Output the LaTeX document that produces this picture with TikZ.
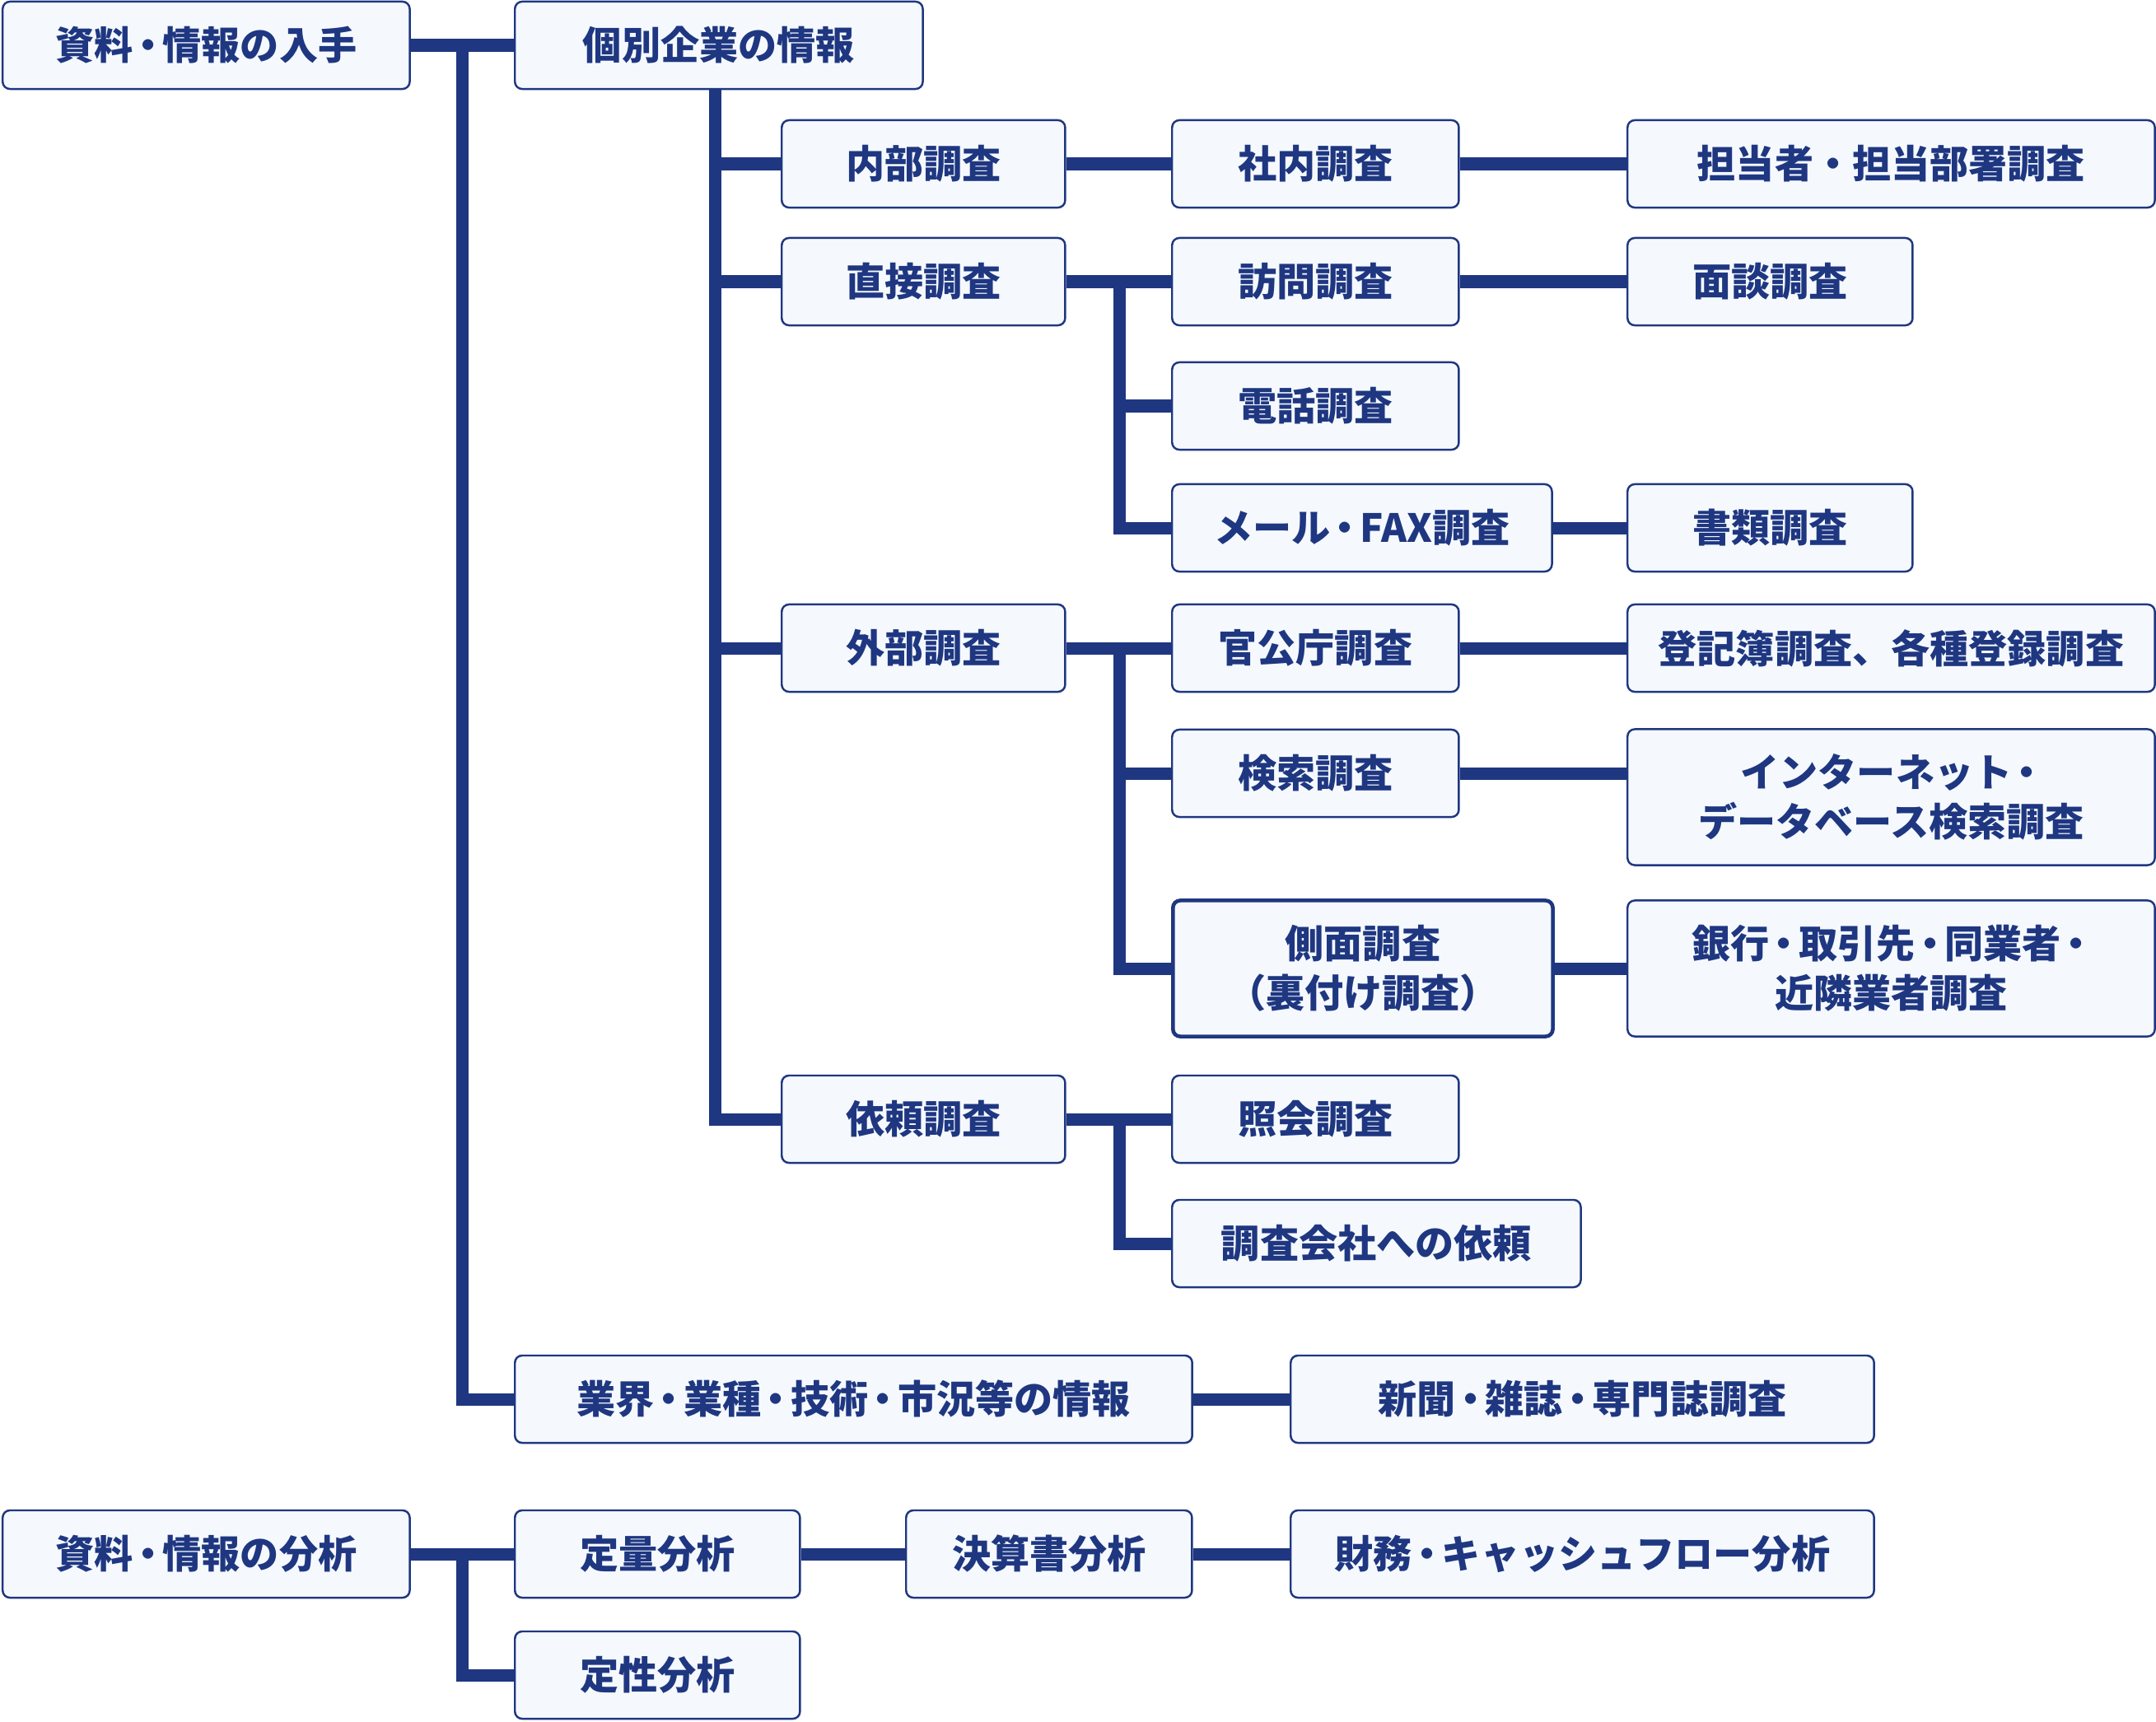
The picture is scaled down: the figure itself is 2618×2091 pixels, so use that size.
\documentclass[tikz,border=0pt]{standalone}
\usepackage{fontspec}
\setmainfont{Noto Sans CJK JP}
\usepackage{tikz}
\definecolor{SrvNavy}{HTML}{1F3781}
\definecolor{SrvIce}{HTML}{F5F9FD}
\newcommand{\srvdot}{\kern-0.12em・\kern-0.12em}
\tikzset{
srvbox/.style={draw=SrvNavy, fill=SrvIce, line width=0.7pt, rounded corners=2.5pt, align=center,
  anchor=west, inner sep=0pt, minimum height=1.06cm, text=SrvNavy,
  font=\bfseries\fontsize{13.4pt}{17pt}\selectfont},
srvtall/.style={srvbox, minimum height=1.65cm},
srvline/.style={draw=SrvNavy, line width=0.15cm}
}
\begin{document}
\begin{tikzpicture}[x=0.01cm, y=-0.01cm]
\useasboundingbox (0,0) rectangle (2618,2091);
% collection
\node[srvbox, minimum width=4.94cm] (get) at (2,55) {資料\srvdot 情報の入手};
\node[srvbox, minimum width=4.95cm] (firm) at (624,55) {個別企業の情報};
\node[srvbox, minimum width=3.44cm] (inner) at (948,199) {内部調査};
\node[srvbox, minimum width=3.48cm] (office) at (1422,199) {社内調査};
\node[srvbox, minimum width=6.40cm] (staff) at (1975,199) {担当者・担当部署調査};
\node[srvbox, minimum width=3.44cm] (direct) at (948,342) {直接調査};
\node[srvbox, minimum width=3.48cm] (visit) at (1422,342) {訪問調査};
\node[srvbox, minimum width=3.46cm] (talk) at (1975,342) {面談調査};
\node[srvbox, minimum width=3.48cm] (phone) at (1422,493) {電話調査};
\node[srvbox, minimum width=4.61cm] (mail) at (1422,641) {メール\srvdot FAX調査};
\node[srvbox, minimum width=3.46cm] (docs) at (1975,641) {書類調査};
\node[srvbox, minimum width=3.44cm] (outer) at (948,787) {外部調査};
\node[srvbox, minimum width=3.48cm] (public) at (1422,787) {官公庁調査};
\node[srvbox, minimum width=6.40cm] (registry) at (1975,787) {登記簿調査、各種登録調査};
\node[srvbox, minimum width=3.48cm] (search) at (1422,939) {検索調査};
\node[srvtall, minimum width=6.40cm] (web) at (1975,968) {インターネット\srvdot\\データベース検索調査};
\node[srvtall, minimum width=4.61cm, line width=1.3pt] (side) at (1422,1176) {側面調査\\（裏付け調査）};
\node[srvtall, minimum width=6.40cm] (bank) at (1975,1176) {銀行\srvdot 取引先\srvdot 同業者\srvdot\\近隣業者調査};
\node[srvbox, minimum width=3.44cm] (request) at (948,1359) {依頼調査};
\node[srvbox, minimum width=3.48cm] (inquiry) at (1422,1359) {照会調査};
\node[srvbox, minimum width=4.96cm] (agency) at (1422,1510) {調査会社への依頼};
\node[srvbox, minimum width=8.22cm] (sector) at (624,1699) {業界\srvdot 業種\srvdot 技術\srvdot 市況等の情報};
\node[srvbox, minimum width=7.08cm] (press) at (1566,1699) {新聞\srvdot 雑誌\srvdot 専門誌調査};
% analysis
\node[srvbox, minimum width=4.94cm] (ana) at (2,1887) {資料\srvdot 情報の分析};
\node[srvbox, minimum width=3.46cm] (quant) at (624,1887) {定量分析};
\node[srvbox, minimum width=3.47cm] (settle) at (1099,1887) {決算書分析};
\node[srvbox, minimum width=7.08cm] (finance) at (1566,1887) {財務\srvdot キャッシュフロー分析};
\node[srvbox, minimum width=3.46cm] (qual) at (624,2034) {定性分析};

\coordinate (jGet) at (561,55);
\coordinate (jFirm) at (868,108);
\coordinate (jDirect) at (1359,342);
\coordinate (jOuter) at (1359,787);
\coordinate (jRequest) at (1359,1359);
\coordinate (jAna) at (561,1887);

\draw[srvline] (get) -- (firm);
\draw[srvline] (jGet) |- (sector.west);
\draw[srvline] (jFirm) |- (request.west);
\foreach \n in {inner,direct,outer}
  \draw[srvline] (jFirm |- \n.west) -- (\n.west);
\draw[srvline] (inner) -- (office);
\draw[srvline] (office) -- (staff);
\draw[srvline] (direct) -- (visit);
\draw[srvline] (visit) -- (talk);
\draw[srvline] (jDirect) |- (mail.west);
\draw[srvline] (jDirect |- phone.west) -- (phone.west);
\draw[srvline] (mail) -- (docs);
\draw[srvline] (outer) -- (public);
\draw[srvline] (public) -- (registry);
\draw[srvline] (jOuter) |- (side.west);
\draw[srvline] (jOuter |- search.west) -- (search.west);
\draw[srvline] (search.east) -- (search.east -| web.west);
\draw[srvline] (side) -- (bank);
\draw[srvline] (request) -- (inquiry);
\draw[srvline] (jRequest) |- (agency.west);
\draw[srvline] (sector) -- (press);
\draw[srvline] (ana) -- (quant);
\draw[srvline] (jAna) |- (qual.west);
\draw[srvline] (quant) -- (settle);
\draw[srvline] (settle) -- (finance);
\end{tikzpicture}
\end{document}
